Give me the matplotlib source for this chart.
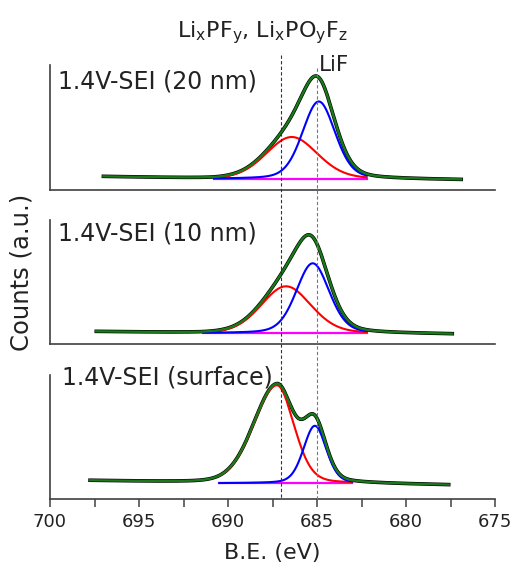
import numpy as np
import matplotlib
matplotlib.use("Agg")
import matplotlib.pyplot as plt
from matplotlib.lines import Line2D
from matplotlib.transforms import blended_transform_factory

plt.rcParams["font.family"] = ["DejaVu Sans"]
plt.rcParams["mathtext.fontset"] = "dejavusans"

# F 1s spectra (binding energy in eV, counts in arbitrary units)
panel_labels = ["1.4V-SEI (20 nm)", "1.4V-SEI (10 nm)", "1.4V-SEI (surface)"]
scan_start = [697.0, 697.4, 697.75]
scan_end = [676.9, 677.4, 677.6]
fit_start = [690.8, 691.4, 690.5]
fit_end = [682.2, 682.2, 683.0]

# background: fit baseline level, and the counts at the high-BE / low-BE scan ends
base_level = [0.110, 0.107, 0.157]
bg_high = [0.133, 0.123, 0.183]
bg_low = [0.100, 0.097, 0.140]

# Li_xPF_y / Li_xPO_yF_z component: centre, height, high-BE / low-BE sigma
red_center = [686.42, 686.74, 687.25]
red_height = [0.42, 0.47, 0.98]
red_sigma_hi = [1.45, 1.40, 1.32]
red_sigma_lo = [1.45, 1.40, 0.95]

# LiF component: centre, height, sigma
blue_center = [684.90, 685.24, 685.12]
blue_height = [0.775, 0.70, 0.575]
blue_sigma = [0.92, 0.93, 0.64]

ref_lines = [687.0, 685.0]


def peak(x, c, h, s_hi, s_lo, eta=0.2):
    s = np.where(x >= c, s_hi, s_lo)
    g = np.exp(-0.5 * ((x - c) / s) ** 2)
    hw = s * np.sqrt(2 * np.log(2))
    lor = 1.0 / (1.0 + ((x - c) / hw) ** 2)
    return h * ((1 - eta) * g + eta * lor)


def background(x, i):
    # flat under the fitted window, sloping to the measured levels at the scan ends
    xs = [scan_end[i], fit_end[i], fit_start[i], scan_start[i]]
    ys = [bg_low[i], base_level[i], base_level[i], bg_high[i]]
    return np.interp(x, xs, ys)


W, H = 513, 568
fig = plt.figure(figsize=(W / 100, H / 100), dpi=100)

left = 50 / W
width = (495 - 50) / W
tops = [65, 220, 375]
bottoms = [190, 344, 499]

spine_col = "#404040"
txt_col = "#222222"
axes = []
for i in range(3):
    ax = fig.add_axes([left, 1 - bottoms[i] / H, width, (bottoms[i] - tops[i]) / H])
    axes.append(ax)
    span = (bottoms[i] - tops[i]) / 100.0

    x = np.linspace(scan_end[i], scan_start[i], 800)
    red = peak(x, red_center[i], red_height[i], red_sigma_hi[i], red_sigma_lo[i])
    blue = peak(x, blue_center[i], blue_height[i], blue_sigma[i], blue_sigma[i], eta=0.25)
    counts = background(x, i) + red + blue

    mask = (x >= fit_end[i]) & (x <= fit_start[i])
    xf = x[mask]

    ax.plot(x, counts, color="black", lw=2.6, zorder=2)
    ax.plot(xf, np.full_like(xf, base_level[i]), color="magenta", lw=1.6, zorder=3)
    ax.plot(xf, base_level[i] + red[mask], color="red", lw=1.5, zorder=4)
    ax.plot(xf, base_level[i] + blue[mask], color="blue", lw=1.5, zorder=4)
    ax.plot(x, counts, color="#1a7a1a", lw=1.7, zorder=5)

    ax.set_xlim(700, 675)
    ax.set_ylim(0, span)
    ax.set_yticks([])
    for side in ("top", "right"):
        ax.spines[side].set_visible(False)
    for side in ("left", "bottom"):
        ax.spines[side].set_color(spine_col)
        ax.spines[side].set_linewidth(1.2)
    ax.patch.set_alpha(0)

    if i < 2:
        ax.set_xticks([])
    else:
        ax.set_xticks(np.arange(700, 674, -5))
        ax.set_xticks(np.arange(697.5, 675, -5), minor=True)
        ax.tick_params(axis="x", which="both", direction="out", length=6,
                       width=1.1, color=spine_col, labelsize=13, pad=4,
                       labelcolor=txt_col)
        ax.set_xlabel("B.E. (eV)", fontsize=16, color=txt_col, labelpad=9)

label_pos = [(58, 82), (58, 233), (62, 378)]
for (px, py), txt in zip(label_pos, panel_labels):
    fig.text(px / W, 1 - py / H, txt, fontsize=17, color=txt_col,
             ha="left", va="center", zorder=10)

fig.text(22 / W, 1 - 272 / H, "Counts (a.u.)", rotation=90, fontsize=17.5,
         color=txt_col, ha="center", va="center")

fig.text(262 / W, 1 - 33 / H,
         r"Li$_{\mathregular{x}}$PF$_{\mathregular{y}}$, "
         r"Li$_{\mathregular{x}}$PO$_{\mathregular{y}}$F$_{\mathregular{z}}$",
         fontsize=16, color=txt_col, ha="center", va="center")
fig.text(319 / W, 1 - 65 / H, "LiF", fontsize=15.5, color=txt_col,
         ha="left", va="center")

trans = blended_transform_factory(axes[2].transData, fig.transFigure)
line_tops = [55, 68]
line_cols = ["#333333", "#777777"]
for xv, yt, col in zip(ref_lines, line_tops, line_cols):
    fig.add_artist(Line2D([xv, xv], [1 - yt / H, 1 - 499 / H], transform=trans,
                          color=col, lw=0.8, ls=(0, (3, 2)), zorder=20))

fig.savefig("out.png", dpi=100)
